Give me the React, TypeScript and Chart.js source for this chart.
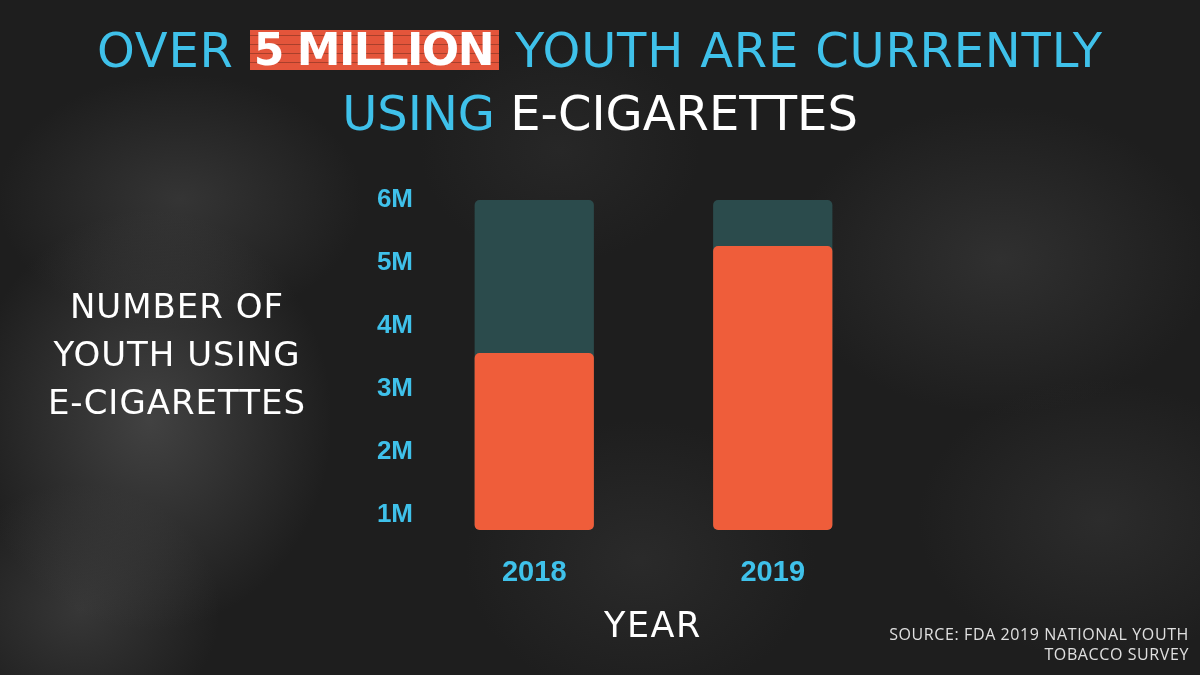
import React, { useEffect, useRef } from "react";
import { Chart, registerables } from "chart.js";

Chart.register(...registerables);

// ---- data ----
const years = ["2018", "2019"];
const youthUsersMillions = [3.57, 5.27];
const scaleCeiling = [6, 6];
const tickValues = [1, 2, 3, 4, 5, 6];
const axisMin = 0.76;
const axisMax = 6;

const ORANGE = "#ef5d3a";
const TEAL = "rgba(44, 78, 79, 0.95)";
const CYAN = "#3fc1ea";

export default function App() {
  const canvasRef = useRef<HTMLCanvasElement | null>(null);

  useEffect(() => {
    document.body.style.margin = "0";
    const ctx = canvasRef.current!.getContext("2d")!;
    const chart = new Chart(ctx, {
      type: "bar",
      data: {
        labels: years,
        datasets: [
          {
            label: "Youth using e-cigarettes",
            data: youthUsersMillions,
            backgroundColor: ORANGE,
            borderRadius: 5,
            borderSkipped: false,
            grouped: false,
            order: 0,
            clip: false,
            base: axisMin,
            barPercentage: 0.5,
            categoryPercentage: 1,
          },
          {
            label: "Scale",
            data: scaleCeiling,
            backgroundColor: TEAL,
            borderRadius: 5,
            borderSkipped: false,
            grouped: false,
            order: 1,
            clip: false,
            base: axisMin,
            barPercentage: 0.5,
            categoryPercentage: 1,
          },
        ],
      },
      options: {
        animation: false,
        responsive: true,
        maintainAspectRatio: false,
        layout: { padding: { left: 335, right: 308, top: 200, bottom: 45 } },
        plugins: {
          legend: { display: false },
          tooltip: { enabled: false },
          title: { display: false },
        },
        scales: {
          y: {
            min: axisMin,
            max: axisMax,
            grid: { display: false, drawTicks: false },
            border: { display: false },
            ticks: {
              color: CYAN,
              padding: 2,
              font: { family: "Liberation Sans", weight: "bold", size: 26 },
              callback: (v: any) => `${v}M`,
            },
            afterBuildTicks: (scale: any) => {
              scale.ticks = tickValues.map((v) => ({ value: v }));
            },
            afterFit: (scale: any) => {
              scale.width = 80;
            },
          },
          x: {
            grid: { display: false, drawTicks: false },
            border: { display: false },
            ticks: {
              color: CYAN,
              padding: 26,
              font: { family: "Liberation Sans", weight: "bold", size: 29 },
            },
            afterFit: (scale: any) => {
              scale.height = 100;
            },
          },
        },
      },
    });
    return () => chart.destroy();
  }, []);

  const bg =
    "radial-gradient(ellipse 260px 300px at 150px 420px, rgba(95,95,95,0.55), rgba(90,90,90,0) 70%)," +
    "radial-gradient(ellipse 260px 180px at 180px 200px, rgba(80,80,80,0.45), rgba(80,80,80,0) 70%)," +
    "radial-gradient(ellipse 200px 180px at 80px 610px, rgba(85,85,85,0.45), rgba(80,80,80,0) 70%)," +
    "radial-gradient(ellipse 300px 220px at 1000px 260px, rgba(75,75,75,0.4), rgba(70,70,70,0) 70%)," +
    "radial-gradient(ellipse 260px 200px at 1100px 520px, rgba(70,70,70,0.35), rgba(70,70,70,0) 70%)," +
    "radial-gradient(ellipse 250px 200px at 640px 560px, rgba(65,65,65,0.35), rgba(60,60,60,0) 70%)," +
    "radial-gradient(ellipse 200px 160px at 560px 150px, rgba(60,60,60,0.3), rgba(60,60,60,0) 70%)," +
    "#1e1e1e";

  const white = "#ffffff";
  const wide = "'DejaVu Sans', sans-serif";

  const highlight =
    "repeating-linear-gradient(180deg, rgba(0,0,0,0) 0px, rgba(0,0,0,0) 5px, rgba(60,25,15,0.35) 5px, rgba(60,25,15,0.35) 6px, rgba(0,0,0,0) 6px, rgba(0,0,0,0) 9px), #e4553b";

  return (
    <div
      style={{
        position: "absolute",
        left: 0,
        top: 0,
        width: 1200,
        height: 675,
        background: bg,
        overflow: "hidden",
        fontFamily: wide,
      }}
    >
      <canvas ref={canvasRef} style={{ position: "absolute", left: 0, top: 0 }} />
      <div
        style={{
          position: "absolute",
          left: 0,
          top: 0,
          width: 1200,
          height: 675,
          pointerEvents: "none",
        }}
      >
        <div
          style={{
            position: "absolute",
            left: 0,
            top: 17,
            width: 1200,
            height: 66,
            display: "flex",
            justifyContent: "center",
            alignItems: "center",
            fontSize: 48,
            lineHeight: "66px",
            color: CYAN,
            whiteSpace: "pre",
            letterSpacing: 0.8,
          }}
        >
          <span>{"OVER "}</span>
          <span
            style={{
              display: "inline-block",
              background: highlight,
              color: white,
              fontWeight: 700,
              fontSize: 44,
              lineHeight: "40px",
              height: 40,
              padding: "0 6px 0 4px",
              letterSpacing: -1.5,
            }}
          >
            5 MILLION
          </span>
          <span>{" YOUTH ARE CURRENTLY"}</span>
        </div>
        <div
          style={{
            position: "absolute",
            left: 0,
            top: 80,
            width: 1200,
            textAlign: "center",
            fontSize: 48,
            lineHeight: "66px",
            color: CYAN,
            whiteSpace: "pre",
            letterSpacing: 0,
          }}
        >
          USING <span style={{ color: white }}>E-CIGARETTES</span>
        </div>
        <div
          style={{
            position: "absolute",
            left: 2,
            top: 282,
            width: 350,
            textAlign: "center",
            color: white,
            fontSize: 34,
            lineHeight: "48px",
            letterSpacing: 1,
          }}
        >
          NUMBER OF
          <br />
          YOUTH USING
          <br />
          E-CIGARETTES
        </div>
        <div
          style={{
            position: "absolute",
            left: 553,
            top: 601,
            width: 200,
            textAlign: "center",
            color: white,
            fontSize: 35,
            lineHeight: "48px",
            letterSpacing: 1.5,
          }}
        >
          YEAR
        </div>
        <div
          style={{
            position: "absolute",
            right: 11,
            top: 624,
            width: 420,
            textAlign: "right",
            color: "#e0e0e0",
            fontFamily: "'Open Sans', sans-serif",
            fontSize: 16,
            lineHeight: "20px",
            letterSpacing: 0.6,
          }}
        >
          SOURCE: FDA 2019 NATIONAL YOUTH
          <br />
          TOBACCO SURVEY
        </div>
      </div>
    </div>
  );
}
